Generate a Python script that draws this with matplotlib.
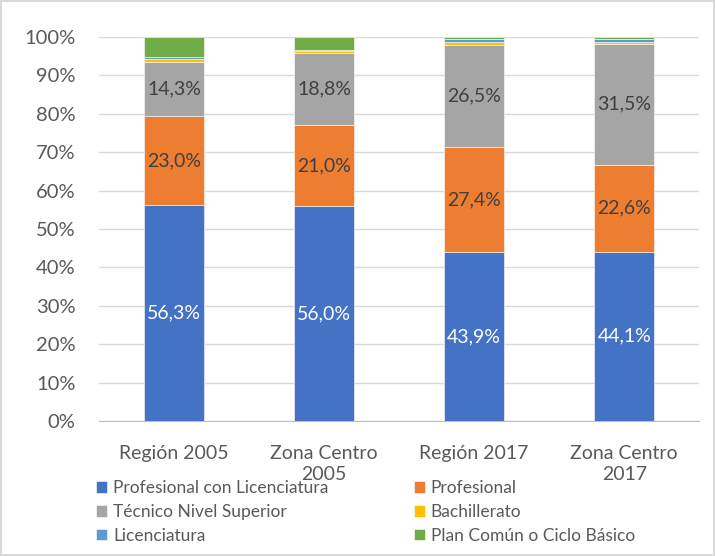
import numpy as np
import matplotlib.pyplot as plt
from matplotlib.ticker import PercentFormatter

plt.rcParams['font.family'] = ['Lato', 'DejaVu Sans']

categories = ['Región 2005', 'Zona Centro\n2005', 'Región 2017', 'Zona Centro\n2017']
series = ['Profesional con Licenciatura', 'Profesional', 'Técnico Nivel Superior',
          'Bachillerato', 'Licenciatura', 'Plan Común o Ciclo Básico']
prof_lic = [56.3, 56.0, 43.9, 44.1]
profesional = [23.0, 21.0, 27.4, 22.6]
tecnico = [14.3, 18.8, 26.5, 31.5]
bachillerato = [0.6, 0.5, 1.0, 0.5]
licenciatura = [0.6, 0.4, 0.8, 0.9]
plan_comun = [5.2, 3.3, 0.4, 0.4]
colors = ['#4472C4', '#ED7D31', '#A5A5A5', '#FFC000', '#5B9BD5', '#70AD47']

values = [prof_lic, profesional, tecnico, bachillerato, licenciatura, plan_comun]
labelled = [True, True, True, False, False, False]
label_colors = ['white', '#404040', '#404040']

fig = plt.figure(figsize=(7.15, 5.56), dpi=100)
fig.patch.set_edgecolor('#d9d9d9')
fig.patch.set_linewidth(1.5)
ax = fig.add_axes([0.1385, 0.2428, 0.8395, 0.6907])

x = np.arange(len(categories))
bottom = np.zeros(len(categories))
for i, (name, vals) in enumerate(zip(series, values)):
    vals = np.array(vals)
    ax.bar(x, vals, 0.4, bottom=bottom, color=colors[i], label=name,
           edgecolor='white', linewidth=0.4, zorder=3)
    if labelled[i]:
        for xi, b, v in zip(x, bottom, vals):
            ax.text(xi, b + v / 2, f'{v:.1f}%'.replace('.', ','), ha='center', va='center',
                    fontsize=14, color=label_colors[i], zorder=4)
    bottom += vals

ax.set_ylim(0, 100)
ax.set_xlim(-0.5, 3.5)
ax.set_yticks(np.arange(0, 101, 10))
ax.yaxis.set_major_formatter(PercentFormatter(decimals=0))
ax.set_xticks(x)
ax.set_xticklabels(categories, linespacing=1.3)
ax.tick_params(axis='both', length=0, colors='#595959')
ax.tick_params(axis='x', labelsize=14, pad=17)
ax.tick_params(axis='y', labelsize=14.5, pad=17)
ax.grid(axis='y', color='#d9d9d9', linewidth=1, zorder=0)
for s in ['top', 'right', 'left']:
    ax.spines[s].set_visible(False)
ax.spines['bottom'].set_color('#bfbfbf')

handles, labels = ax.get_legend_handles_labels()
order = [0, 2, 4, 1, 3, 5]
fig.legend([handles[k] for k in order], [labels[k] for k in order], ncol=2,
           loc='lower left', bbox_to_anchor=(0.112, -0.006),
           frameon=False, fontsize=12.5, labelcolor='#595959', handlelength=0.65,
           handleheight=0.65, handletextpad=0.35, columnspacing=4.9, labelspacing=0.45)

fig.savefig('out.png', dpi=100)
